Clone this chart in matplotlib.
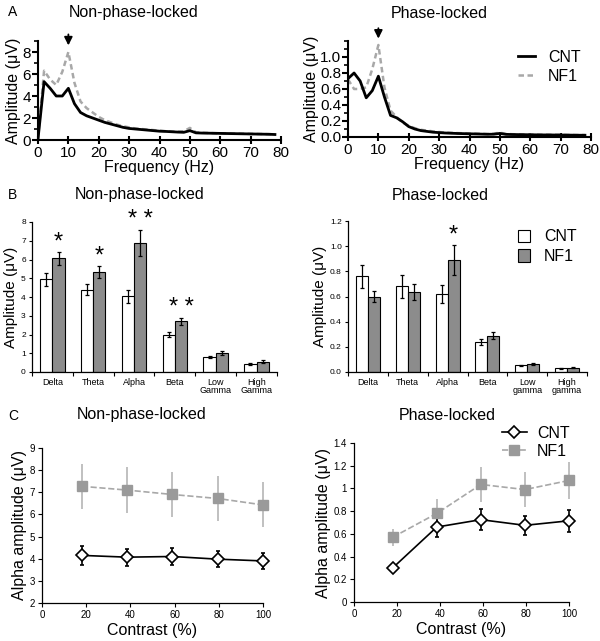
import matplotlib.pyplot as plt
from matplotlib.ticker import MultipleLocator
from matplotlib.lines import Line2D

plt.rcParams['font.family'] = ['Liberation Sans', 'DejaVu Sans']

# ---- panel A: spectra ----
freq = [0, 2, 4, 6, 8, 10, 12, 14, 16, 18, 20, 22, 24, 26, 28, 30, 32, 34, 36, 38,
        40, 42, 44, 46, 48, 50, 52, 54, 56, 58, 60, 62, 64, 66, 68, 70, 72, 74, 76, 78]
np_cnt = [0.1, 5.3, 4.7, 4.0, 4.0, 4.7, 3.3, 2.5, 2.2, 2.0, 1.8, 1.6, 1.45, 1.3, 1.15, 1.05, 1.0, 0.95, 0.9, 0.85,
          0.8, 0.78, 0.75, 0.72, 0.7, 0.85, 0.65, 0.63, 0.62, 0.61, 0.6, 0.59, 0.58, 0.57, 0.56, 0.55, 0.54, 0.53, 0.52, 0.5]
np_nf1 = [0.1, 6.3, 5.5, 5.0, 6.2, 8.0, 5.2, 3.5, 2.9, 2.5, 2.1, 1.8, 1.6, 1.4, 1.25, 1.15, 1.05, 1.0, 0.95, 0.9,
          0.85, 0.8, 0.78, 0.75, 0.8, 1.1, 0.7, 0.66, 0.64, 0.62, 0.61, 0.6, 0.59, 0.58, 0.57, 0.56, 0.55, 0.54, 0.53, 0.52]
pl_cnt = [0.73, 0.80, 0.70, 0.49, 0.58, 0.76, 0.50, 0.27, 0.24, 0.19, 0.13, 0.10, 0.08, 0.07, 0.06, 0.055, 0.05, 0.047, 0.044, 0.042,
          0.04, 0.038, 0.036, 0.034, 0.035, 0.045, 0.033, 0.031, 0.03, 0.029, 0.028, 0.027, 0.026, 0.026, 0.025, 0.025, 0.024, 0.023, 0.022, 0.022]
pl_nf1 = [0.72, 0.60, 0.60, 0.62, 0.85, 1.15, 0.62, 0.33, 0.25, 0.18, 0.14, 0.11, 0.09, 0.08, 0.07, 0.062, 0.056, 0.052, 0.049, 0.046,
          0.044, 0.042, 0.04, 0.038, 0.042, 0.055, 0.038, 0.035, 0.033, 0.032, 0.031, 0.03, 0.029, 0.028, 0.028, 0.027, 0.026, 0.025, 0.025, 0.024]

# ---- panel B: band amplitudes ----
bands_np = ['Delta', 'Theta', 'Alpha', 'Beta', 'Low\nGamma', 'High\nGamma']
bands_pl = ['Delta', 'Theta', 'Alpha', 'Beta', 'Low\ngamma', 'High\ngamma']
b_np_cnt = [4.95, 4.4, 4.05, 2.0, 0.82, 0.45]
b_np_cnt_err = [0.35, 0.3, 0.35, 0.15, 0.05, 0.05]
b_np_nf1 = [6.07, 5.33, 6.9, 2.7, 1.0, 0.55]
b_np_nf1_err = [0.35, 0.3, 0.7, 0.2, 0.1, 0.07]
b_np_stars = ['*', '*', '* *', '* *', '', '']
b_pl_cnt = [0.76, 0.68, 0.62, 0.24, 0.053, 0.03]
b_pl_cnt_err = [0.09, 0.09, 0.07, 0.025, 0.005, 0.004]
b_pl_nf1 = [0.60, 0.635, 0.89, 0.29, 0.065, 0.033]
b_pl_nf1_err = [0.045, 0.065, 0.12, 0.03, 0.007, 0.005]
b_pl_stars = ['', '', '*', '', '', '']

# ---- panel C: alpha vs contrast ----
contrast = [18, 38.5, 59, 79.5, 100]
c_np_cnt = [4.15, 4.07, 4.1, 3.98, 3.9]
c_np_cnt_err = [0.43, 0.38, 0.4, 0.37, 0.37]
c_np_nf1 = [7.27, 7.1, 6.9, 6.72, 6.43]
c_np_nf1_err = [1.02, 1.02, 1.0, 1.0, 1.02]
c_pl_cnt = [0.30, 0.66, 0.725, 0.675, 0.715]
c_pl_cnt_err = [0.012, 0.085, 0.09, 0.085, 0.095]
c_pl_nf1 = [0.57, 0.78, 1.035, 0.99, 1.07]
c_pl_nf1_err = [0.075, 0.13, 0.155, 0.155, 0.16]

W, H = 600, 641
GRAY_BAR = '#8c8c8c'
GRAY_LINE = '#a8a8a8'


def box(left, top, right, bottom):
    return [left / W, 1 - bottom / H, (right - left) / W, (bottom - top) / H]


def clean(ax, lw=1.0):
    ax.spines['top'].set_visible(False)
    ax.spines['right'].set_visible(False)
    ax.spines['left'].set_linewidth(lw)
    ax.spines['bottom'].set_linewidth(lw)


fig = plt.figure(figsize=(6, 6.41), dpi=100)


def ftext(x, y, s, size, ha='left'):
    fig.text(x / W, 1 - y / H, s, fontsize=size, ha=ha, va='center')


# panel letters and titles
ftext(8, 12, 'A', 10)
ftext(8, 195, 'B', 10)
ftext(8, 416, 'C', 10)
ftext(134, 12, 'Non-phase-locked', 11.5, 'center')
ftext(439, 13, 'Phase-locked', 11.5, 'center')
ftext(140, 195, 'Non-phase-locked', 11.5, 'center')
ftext(440, 195, 'Phase-locked', 11.5, 'center')
ftext(142, 415, 'Non-phase-locked', 11.5, 'center')
ftext(447, 416, 'Phase-locked', 11.5, 'center')

# ---------------- A ----------------
specs = [
    (box(38, 41, 281, 140), np_cnt, np_nf1, 9, 2, 1, (8.6, 9.6)),
    (box(348, 41, 591, 137), pl_cnt, pl_nf1, 1.2, 0.2, 0.1, (1.23, 1.36)),
]
for pos, cnt, nf1, ymax, maj, mnr, arr in specs:
    ax = fig.add_axes(pos)
    ax.plot(freq, nf1, color=GRAY_LINE, lw=1.8, ls=(0, (2.2, 1.4)), label='NF1')
    ax.plot(freq, cnt, color='black', lw=2, label='CNT')
    ax.set_xlim(0, 80)
    ax.set_ylim(0, ymax)
    ax.xaxis.set_major_locator(MultipleLocator(10))
    ax.yaxis.set_minor_locator(MultipleLocator(mnr))
    if maj < 1:
        ax.set_yticks([0, 0.2, 0.4, 0.6, 0.8, 1.0])
        ax.set_yticklabels(['0.0', '0.2', '0.4', '0.6', '0.8', '1.0'])
    else:
        ax.set_yticks([0, 2, 4, 6, 8])
    clean(ax, 1.5)
    ax.tick_params(axis='both', labelsize=11, width=1.5, length=4, pad=1)
    ax.tick_params(axis='x', direction='inout', length=6)
    ax.tick_params(which='minor', width=1.2, length=3)
    ax.set_xlabel('Frequency (Hz)', fontsize=11.5, labelpad=0)
    ax.set_ylabel('Amplitude (μV)', fontsize=11.5, labelpad=1)
    ax.annotate('', xy=(10, arr[0]), xytext=(10, arr[1]), annotation_clip=False,
                arrowprops=dict(arrowstyle='-|>', color='black', lw=1.3, mutation_scale=12,
                                shrinkA=0, shrinkB=0))
    if maj < 1:
        h, l = ax.get_legend_handles_labels()
        ax.legend(h[::-1], l[::-1], loc='upper left', bbox_to_anchor=(0.64, 1.06),
                  frameon=False, fontsize=11.5, handlelength=1.1, handletextpad=0.8,
                  labelspacing=0.25)

# ---------------- B ----------------
bspecs = [
    (box(32, 222, 277, 372), bands_np, b_np_cnt, b_np_cnt_err, b_np_nf1, b_np_nf1_err, b_np_stars, 8, 1, False),
    (box(348, 221, 587, 372), bands_pl, b_pl_cnt, b_pl_cnt_err, b_pl_nf1, b_pl_nf1_err, b_pl_stars, 1.2, 0.2, True),
]
for pos, labels, cnt, cerr, nf1, nerr, stars, ymax, step, leg in bspecs:
    ax = fig.add_axes(pos)
    x = list(range(len(labels)))
    bw = 0.3
    ekw = dict(elinewidth=0.9, capsize=1.5, capthick=0.9, ecolor='black')
    ax.bar([i - bw / 2 for i in x], cnt, bw, yerr=cerr, color='white', edgecolor='black',
           lw=0.8, error_kw=ekw, label='CNT')
    ax.bar([i + bw / 2 for i in x], nf1, bw, yerr=nerr, color=GRAY_BAR, edgecolor='black',
           lw=0.8, error_kw=ekw, label='NF1')
    for i, s in enumerate(stars):
        if s:
            ax.text(i + bw / 2, nf1[i] + nerr[i] - ymax * 0.01, s, ha='center', va='bottom',
                    fontsize=17)
    ax.set_xlim(-0.5, len(labels) - 0.5)
    ax.set_ylim(0, ymax)
    ax.set_xticks([i - 0.5 for i in range(len(labels) + 1)])
    ax.set_xticklabels([])
    ax.set_xticks(x, minor=True)
    ax.set_xticklabels(labels, minor=True, fontsize=6.5, linespacing=0.95)
    ax.tick_params(axis='x', which='minor', length=0, pad=4)
    ax.yaxis.set_major_locator(MultipleLocator(step))
    if ymax < 2:
        ax.set_yticks([0, 0.2, 0.4, 0.6, 0.8, 1.0, 1.2])
        ax.set_yticklabels(['0.0', '0.2', '0.4', '0.6', '0.8', '1.0', '1.2'])
    ax.tick_params(axis='y', labelsize=6, length=2.5, width=0.8, pad=2)
    ax.tick_params(axis='x', which='major', length=3, width=0.8)
    clean(ax, 0.9)
    ax.set_ylabel('Amplitude (μV)', fontsize=11, labelpad=2)
    if leg:
        ax.legend(loc='upper left', bbox_to_anchor=(0.65, 1.04), frameon=False, fontsize=11.5,
                  handlelength=0.75, handleheight=0.8, handletextpad=0.9, labelspacing=0.3)

# ---------------- C ----------------
cspecs = [
    (box(42, 448, 263, 603), c_np_cnt, c_np_cnt_err, c_np_nf1, c_np_nf1_err, (2, 9), 1, False),
    (box(354, 443, 569, 602), c_pl_cnt, c_pl_cnt_err, c_pl_nf1, c_pl_nf1_err, (0, 1.4), 0.2, True),
]
for pos, cnt, cerr, nf1, nerr, ylim, step, leg in cspecs:
    ax = fig.add_axes(pos)
    nf1_style = dict(color=GRAY_LINE, ls='--', lw=1.2, marker='s', ms=6.5, mfc='#9a9a9a', mec='#9a9a9a')
    cnt_style = dict(color='black', lw=1.2, marker='D', ms=6.5, mfc='white', mec='black', mew=1.2)
    ax.errorbar(contrast, nf1, yerr=nerr, ecolor='#b5b5b5', elinewidth=1.2, capsize=0,
                clip_on=False, **nf1_style)
    ax.errorbar(contrast, cnt, yerr=cerr, ecolor='black', elinewidth=1.2, capsize=1.5,
                clip_on=False, **cnt_style)
    ax.set_xlim(0, 100)
    ax.set_ylim(*ylim)
    ax.xaxis.set_major_locator(MultipleLocator(20))
    ax.yaxis.set_major_locator(MultipleLocator(step))
    if step < 1:
        ax.set_yticks([0, 0.2, 0.4, 0.6, 0.8, 1.0, 1.2, 1.4])
        ax.set_yticklabels(['0', '0.2', '0.4', '0.6', '0.8', '1', '1.2', '1.4'])
    clean(ax, 0.9)
    ax.tick_params(axis='both', labelsize=7, length=3, width=0.8, pad=2)
    ax.set_xlabel('Contrast (%)', fontsize=11.5, labelpad=2)
    ax.set_ylabel('Alpha amplitude (μV)', fontsize=11.5, labelpad=2)
    if leg:
        handles = [Line2D([], [], **cnt_style), Line2D([], [], **nf1_style)]
        ax.legend(handles, ['CNT', 'NF1'], loc='upper left', bbox_to_anchor=(0.62, 1.2),
                  frameon=False, fontsize=11.5, handlelength=1.6, handletextpad=0.6,
                  labelspacing=0.2)

fig.savefig('out.png', dpi=100)
